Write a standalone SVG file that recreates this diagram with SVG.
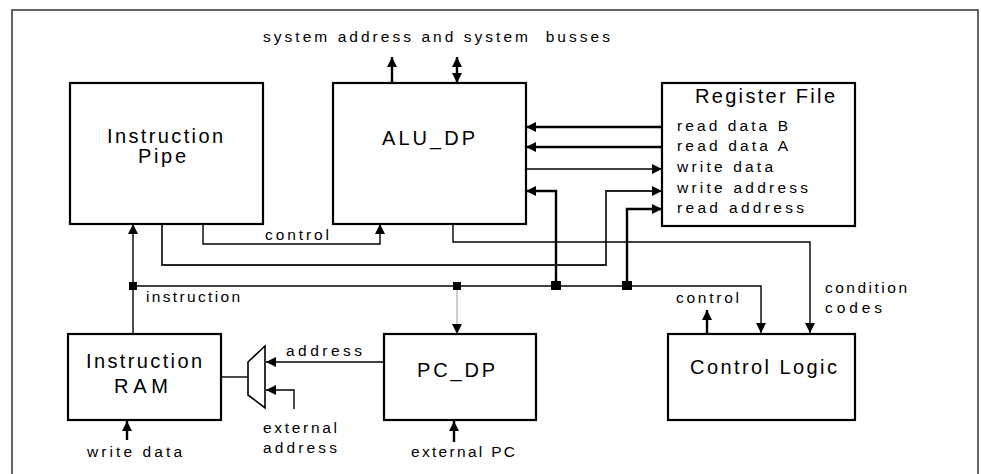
<svg xmlns="http://www.w3.org/2000/svg" width="981" height="474" viewBox="0 0 981 474">
<style>
  text { font-family: "Liberation Sans", Arial, sans-serif; fill: #000; }
  .t { font-size: 20px; }
  .l { font-size: 15.5px; }
  .box { fill: #fff; stroke: #000; stroke-width: 2.2; }
  .w { fill: none; stroke: #000; stroke-width: 1.4; }
  .wb { fill: none; stroke: #000; stroke-width: 2.4; }
  .wg { fill: none; stroke: #222; stroke-width: 1.8; }
  .wl { fill: none; stroke: #999; stroke-width: 1; }
  .a { marker-end: url(#arr); }
  .dot { fill: #000; }
</style>
<defs>
  <marker id="arr" viewBox="0 0 10 10" refX="10" refY="5" markerWidth="10" markerHeight="10" markerUnits="userSpaceOnUse" orient="auto-start-reverse">
    <path d="M0,0 L10,5 L0,10 z" fill="#000"/>
  </marker>
</defs>
<rect x="0" y="0" width="981" height="474" fill="#fff"/>
<rect x="12" y="10" width="966" height="480" fill="none" stroke="#333" stroke-width="1.5"/>

<text class="l" x="263" y="42" textLength="347" lengthAdjust="spacing">system address and system&#160; busses</text>

<g id="connectors">
  <path class="wb a" d="M392,83 V57"/>
  <path class="wb a" d="M457,66 V57" />
  <path class="wb a" d="M457,74 V83" />
  <path class="wb" d="M457,64 V76"/>
  <path class="wb a" d="M662,127 H526"/>
  <path class="wb a" d="M662,147 H526"/>
  <path class="w a" d="M526,169 H662"/>
  <path class="wb a" d="M556,285 V191 H526"/>
  <path class="wg a" d="M162,224 V265 H606 V191 H662"/>
  <path class="wb a" d="M627,285 V209 H662"/>
  <path class="w a" d="M203,224 V244 H380 V224"/>
  <path class="w a" d="M453,224 V242 H810 V333"/>
  <path class="w a" d="M133,286 H761 V333"/>
  <path class="w a" d="M133,334 V224"/>
  <path class="wl a" d="M457,286 V334"/>
  <path class="wb a" d="M707,334 V310"/>
  <path class="wb a" d="M127,440 V421"/>
  <path class="wb a" d="M454,442 V421"/>
  <path class="w" d="M221,377 H248"/>
  <path class="w a" d="M384,362 H266"/>
  <path class="w a" d="M294,409 V390 H266"/>
  <rect class="dot" x="129" y="282" width="8" height="8"/>
  <rect class="dot" x="453" y="282" width="8" height="8"/>
  <rect class="dot" x="551" y="281" width="10" height="9"/>
  <rect class="dot" x="622" y="281" width="10" height="9"/>
</g>

<g id="instruction-pipe">
  <rect class="box" x="70" y="83" width="193" height="141"/>
  <text class="t" x="107" y="143" textLength="116" lengthAdjust="spacing">Instruction</text>
  <text class="t" x="138" y="163" textLength="48" lengthAdjust="spacing">Pipe</text>
</g>

<g id="alu-dp">
  <rect class="box" x="333" y="83" width="193" height="141"/>
  <text class="t" x="382" y="145" textLength="93" lengthAdjust="spacing">ALU_DP</text>
</g>

<g id="register-file">
  <rect class="box" x="662" y="83" width="193" height="143"/>
  <text class="t" x="695" y="103" textLength="140" lengthAdjust="spacing">Register File</text>
  <text class="l" x="677" y="131" textLength="111" lengthAdjust="spacing">read data B</text>
  <text class="l" x="677" y="151" textLength="111" lengthAdjust="spacing">read data A</text>
  <text class="l" x="677" y="172" textLength="96" lengthAdjust="spacing">write data</text>
  <text class="l" x="677" y="193" textLength="131" lengthAdjust="spacing">write address</text>
  <text class="l" x="677" y="213" textLength="127" lengthAdjust="spacing">read address</text>
</g>

<g id="labels">
  <text class="l" x="265" y="240" textLength="64" lengthAdjust="spacing">control</text>
  <text class="l" x="146" y="302" textLength="94" lengthAdjust="spacing">instruction</text>
  <text class="l" x="676" y="303" textLength="63" lengthAdjust="spacing">control</text>
  <text class="l" x="825" y="293" textLength="82" lengthAdjust="spacing">condition</text>
  <text class="l" x="825" y="313" textLength="57" lengthAdjust="spacing">codes</text>
  <text class="l" x="286" y="356" textLength="76" lengthAdjust="spacing">address</text>
  <text class="l" x="87" y="457" textLength="95" lengthAdjust="spacing">write data</text>
  <text class="l" x="263" y="433" textLength="74" lengthAdjust="spacing">external</text>
  <text class="l" x="263" y="453" textLength="74" lengthAdjust="spacing">address</text>
  <text class="l" x="411" y="457" textLength="104" lengthAdjust="spacing">external PC</text>
</g>

<g id="instruction-ram">
  <rect class="box" x="68" y="334" width="153" height="86"/>
  <text class="t" x="86" y="368" textLength="116" lengthAdjust="spacing">Instruction</text>
  <text class="t" x="114" y="393" textLength="54" lengthAdjust="spacing">RAM</text>
</g>

<g id="mux">
  <path d="M248,362 L265,346 V408 L248,395 Z" fill="#fff" stroke="#000" stroke-width="1.6"/>
</g>

<g id="pc-dp">
  <rect class="box" x="384" y="334" width="152" height="86"/>
  <text class="t" x="417" y="377" textLength="78" lengthAdjust="spacing">PC_DP</text>
</g>

<g id="control-logic">
  <rect class="box" x="668" y="334" width="187" height="86"/>
  <text class="t" x="690" y="374" textLength="147" lengthAdjust="spacing">Control Logic</text>
</g>
</svg>
